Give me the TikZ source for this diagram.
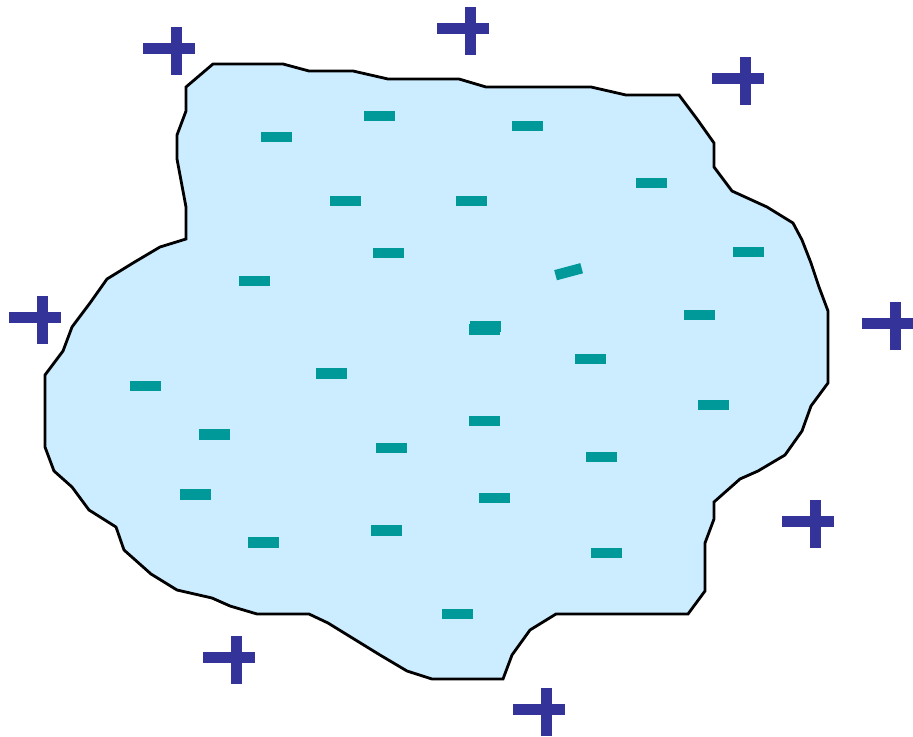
\documentclass[tikz,border=0pt]{standalone}
\usetikzlibrary{calc}
\definecolor{blobfill}{RGB}{204,236,255}
\definecolor{negteal}{RGB}{0,153,153}
\definecolor{posblue}{RGB}{51,51,153}
\tikzset{
    blob/.style={
        draw=black,
        fill=blobfill,
        line width=1.6pt,
        line join=miter
    },
    neg_bar/.style={
        fill=negteal
    },
    pos_bar/.style={
        fill=posblue
    }
}
% negative charge centred at (#1,#2)
\newcommand{\negcharge}[2]{
    \fill[neg_bar] (#1-15.5,#2-5.25) rectangle ++(31,10.5);
}
% positive charge, horizontal bar starting at (#1,#2)
\newcommand{\poscharge}[2]{
    \fill[pos_bar] (#1,#2) rectangle ++(52,11);
    \fill[pos_bar] (#1+28,#2-16) rectangle ++(11,48);
}

\begin{document}
\begin{tikzpicture}[x=0.02cm, y=-0.02cm]
\useasboundingbox (0,0) rectangle (913,737);

% Charged body
\draw[blob] (213,64) -- (283,64) -- (309,71) -- (353,71) -- (388,79)
  -- (459,79) -- (486,87) -- (591,87) -- (626,95) -- (679,95)
  -- (697,119) -- (714,143) -- (714,167) -- (732,191) -- (767,207)
  -- (793,223) -- (802,240) -- (811,263) -- (819,287) -- (828,311)
  -- (828,383) -- (811,406) -- (802,431) -- (785,455) -- (758,471)
  -- (740,479) -- (714,502) -- (714,519) -- (705,543) -- (705,591)
  -- (688,614) -- (556,614) -- (530,630) -- (512,655) -- (503,679)
  -- (432,679) -- (407,671) -- (380,655) -- (328,623) -- (309,614)
  -- (257,614) -- (230,606) -- (212,598) -- (177,590) -- (151,574)
  -- (124,550) -- (116,527) -- (89,510) -- (72,487) -- (54,471)
  -- (45,447) -- (45,375) -- (63,351) -- (72,327) -- (90,303)
  -- (107,279) -- (133,263) -- (160,247) -- (186,239) -- (186,207)
  -- (177,159) -- (177,135) -- (186,111) -- (186,87) -- cycle;

% Negative charges inside
\foreach \cx/\cy in {276/137, 379/116, 527/126, 345/201, 471/201,
    651/183, 388/253, 748/252, 254/281, 699/315, 590/359,
    145.7/386, 331.7/373.3, 713/405, 214/434.3, 484/421, 391.7/447.8,
    601/457, 195.3/494.3, 494/498, 263.3/542.5, 386.7/530.3,
    606/553, 457/614}
  {\negcharge{\cx}{\cy}}

% overlapping pair and tilted one
\negcharge{484}{329.5}
\negcharge{485.8}{326.3}
\fill[neg_bar, rotate around={15:(568.6,271.7)}]
  (568.6-13.5,271.7-5.25) rectangle ++(27,10.5);

% Positive charges outside
\foreach \px/\py in {143/43, 437/23, 712/73, 9/312, 862/318,
    782/516, 203/652, 513/704}
  {\poscharge{\px}{\py}}

\end{tikzpicture}
\end{document}
